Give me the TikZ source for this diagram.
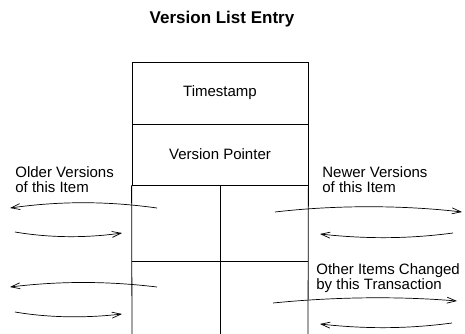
\documentclass[tikz,border=0pt]{standalone}
\usepackage{fontspec}
\setmainfont{Liberation Sans}
\usetikzlibrary{arrows.meta}
\tikzstyle{field}=[draw, line width=.8pt, minimum width=176pt, inner sep=0pt, font=\fontsize{15}{16}\selectfont]
\tikzstyle{caption}=[align=left, anchor=north west, inner sep=0pt, font=\fontsize{15}{15.5}\selectfont]
\tikzstyle{ptr}=[line width=.7pt, -{Straight Barb[length=9pt,width=6pt]}]

\begin{document}
\begin{tikzpicture}[x=1pt, y=-1pt, line width=.8pt]
	\useasboundingbox (0,0) rectangle (465,334);
	\node[font=\fontsize{17}{18}\selectfont\bfseries] (title) at (222,19) {Version List Entry};
	\node[field, minimum height=62pt] (stamp) at (220,93) {Timestamp};
	\node[field, minimum height=61pt] (vptr) at (220,154.5) {Version Pointer};
%	lower part of the entry, open at the bottom
	\coordinate (lowl) at (132,334);
	\coordinate (lowr) at (308,334);
	\coordinate (lowm) at (220,334);
	\draw (vptr.south west) -- (lowl);
	\draw (vptr.south east) -- (lowr);
	\draw (vptr.south) -- (lowm);
	\draw (132,261) -- (308,261);
%
	\node[caption] (older) at (15,166) {Older Versions\\of this Item};
	\node[caption] (newer) at (322,166) {Newer Versions\\of this Item};
	\node[caption] (others) at (316,263) {Other Items Changed\\by this Transaction};
%
	\coordinate (o1s) at (157,208); \coordinate (o1e) at (10,208);
	\coordinate (o2s) at (15,232);  \coordinate (o2e) at (122,233);
	\coordinate (o3s) at (157,287); \coordinate (o3e) at (10,287);
	\coordinate (o4s) at (15,312);  \coordinate (o4e) at (122,314);
	\coordinate (n1s) at (275,212); \coordinate (n1e) at (462,212);
	\coordinate (n2s) at (453,233); \coordinate (n2e) at (320,234);
	\coordinate (t1s) at (273,303); \coordinate (t1e) at (457,301);
	\coordinate (t2s) at (452,323); \coordinate (t2e) at (320,324);
%
	\draw[ptr] (o1s) .. controls +(-50,-7) and +(50,-7) .. (o1e);
	\draw[ptr] (o2s) .. controls +(35,6) and +(-35,5) .. (o2e);
	\draw[ptr] (o3s) .. controls +(-50,-6) and +(50,-6) .. (o3e);
	\draw[ptr] (o4s) .. controls +(35,6) and +(-35,4) .. (o4e);
	\draw[ptr] (n1s) .. controls +(60,-7) and +(-60,-7) .. (n1e);
	\draw[ptr] (n2s) .. controls +(-45,6) and +(45,5) .. (n2e);
	\draw[ptr] (t1s) .. controls +(60,-6) and +(-60,-5) .. (t1e);
	\draw[ptr] (t2s) .. controls +(-45,6) and +(45,5) .. (t2e);
\end{tikzpicture}
\end{document}
